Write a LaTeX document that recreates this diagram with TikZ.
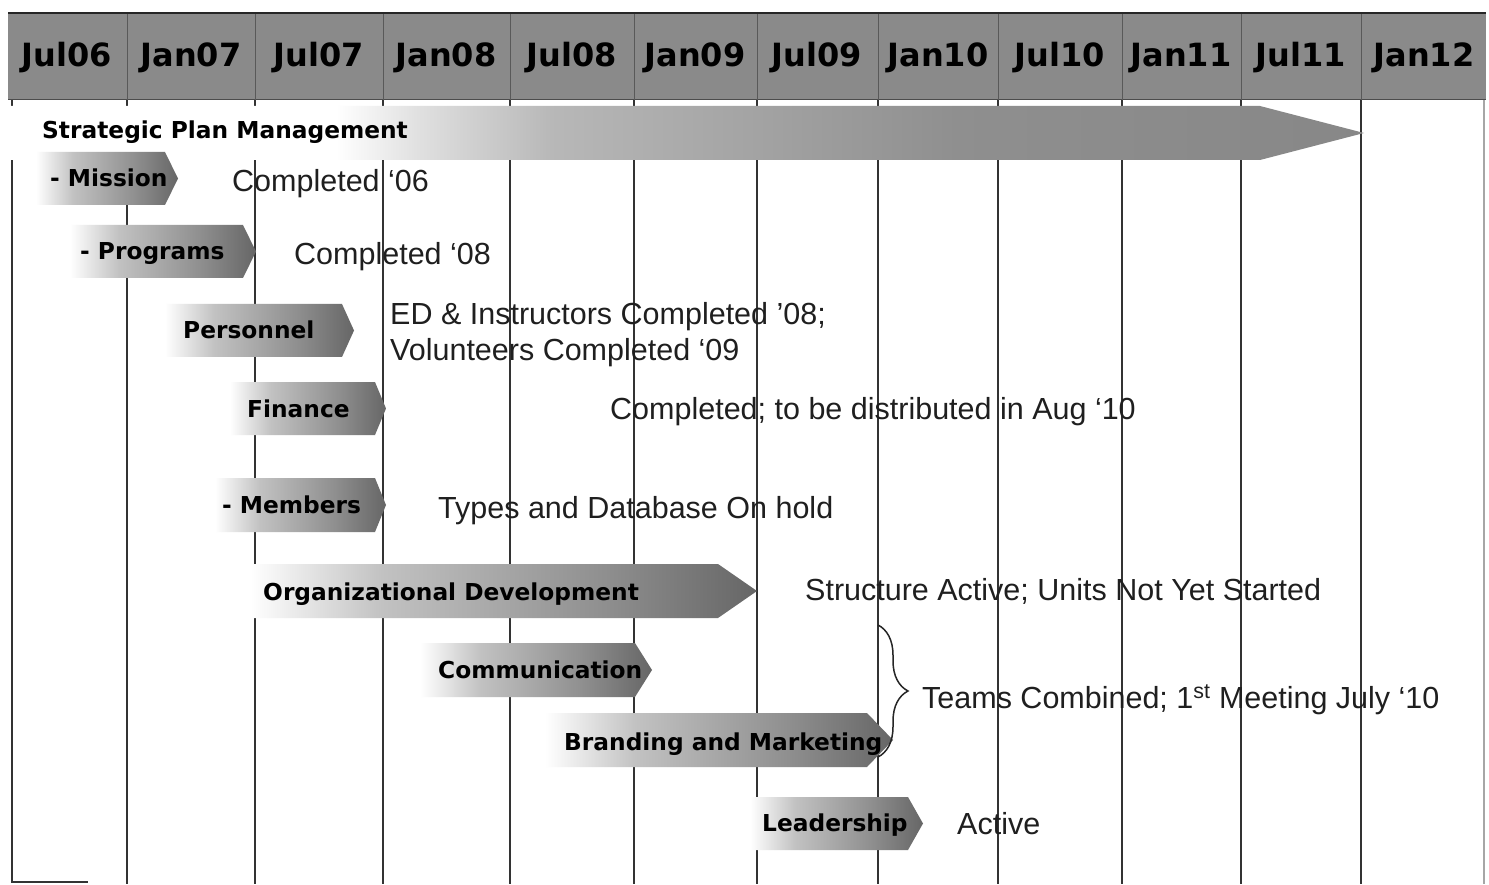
\documentclass[tikz,border=0pt]{standalone}
\usepackage{fontspec}
\setmainfont{Liberation Sans}
\newfontfamily\verdb{DejaVu Sans}[BoldFont={DejaVu Sans Bold}]
\usetikzlibrary{decorations.pathreplacing}
\pgfdeclarehorizontalshading{chev}{100bp}{color(0bp)=(white); color(25bp)=(white); color(38bp)=(black!24); color(60bp)=(black!44); color(75bp)=(black!60); color(100bp)=(black!60)}
\pgfdeclarehorizontalshading{bigshade}{100bp}{color(0bp)=(white); color(37bp)=(white); color(40bp)=(black!12); color(45bp)=(black!28); color(60bp)=(black!44); color(75bp)=(black!47); color(100bp)=(black!47)}
\newcommand\mychev[5]{\shade[shading=chev] (#1,#4) -- (#2,#4) -- (#3,{(#4+#5)/2}) -- (#2,#5) -- (#1,#5) -- cycle;}
\tikzset{
  hdr/.style={font=\verdb\bfseries\fontsize{32}{36}\selectfont, anchor=base, inner sep=0pt, text=black},
  lbl/.style={font=\verdb\bfseries\fontsize{23.3}{27}\selectfont, anchor=base west, inner sep=0pt, text=black},
  stat/.style={font=\fontsize{30.5}{34}\selectfont, anchor=base west, inner sep=0pt, text=black!88},
  gridline/.style={draw=black!80, line width=1.6pt},
  hdrline/.style={draw=black!65, line width=1pt}
}
\begin{document}
\begin{tikzpicture}[x=1pt,y=-1pt]
\useasboundingbox (0,0) rectangle (1489,885);
\fill[white] (0,0) rectangle (1489,885);
% header
\fill[black!46] (8,13) rectangle (1486,100);
\draw[black!85, line width=2.5pt] (8,13) -- (1486,13);
\draw[black!70, line width=1pt] (8,100) -- (1486,100);
\foreach \x in {127,255,383,510,634,757,878,998,1122,1241,1361}
  \draw[hdrline] (\x,14) -- (\x,100);
\node[hdr] (h1) at (67,67) {Jul06};
\node[hdr] (h2) at (191,67) {Jan07};
\node[hdr] (h3) at (319,67) {Jul07};
\node[hdr] (h4) at (446,67) {Jan08};
\node[hdr] (h5) at (572,67) {Jul08};
\node[hdr] (h6) at (695,67) {Jan09};
\node[hdr] (h7) at (817,67) {Jul09};
\node[hdr] (h8) at (938,67) {Jan10};
\node[hdr] (h9) at (1060,67) {Jul10};
\node[hdr] (h10) at (1181,67) {Jan11};
\node[hdr] (h11) at (1301,67) {Jul11};
\node[hdr] (h12) at (1424,67) {Jan12};
% grid
\foreach \x in {127,255,383,510,634,757,878,998,1122,1241,1361}
  \draw[gridline] (\x,100) -- (\x,884);
\draw[gridline] (12,100) -- (12,882) -- (88,882);
\draw[black!35, line width=1.4pt] (1484,100) -- (1484,884);
% big arrow
\shade[shading=bigshade] (11,106) -- (1260,106) -- (1364,133) -- (1260,160) -- (11,160) -- cycle;
\node[lbl] (spm) at (42,139) {Strategic Plan Management};
% chevrons
\mychev{36}{165}{178}{152}{205}
\node[lbl] (mis) at (50,187) {- Mission};
\mychev{70}{243}{256}{225}{278}
\node[lbl] (prog) at (80,260) {- Programs};
\mychev{165}{342}{354}{304}{357}
\node[lbl] (pers) at (183,338) {Personnel};
\mychev{230}{375}{386}{382}{435}
\node[lbl] (fin) at (247,417) {Finance};
\mychev{215}{375}{386}{478}{532}
\node[lbl] (mem) at (222,513) {- Members};
\mychev{250}{718}{757}{564}{618}
\node[lbl] (org) at (263,600) {Organizational Development};
\mychev{420}{635}{652}{643}{697}
\node[lbl] (com) at (438,678) {Communication};
\mychev{545}{867}{893}{713}{767}
\node[lbl] (brand) at (564,750) {Branding and Marketing};
\mychev{750}{908}{923}{797}{850}
\node[lbl] (lead) at (762,831) {Leadership};
% status texts
\node[stat] (s1) at (232,192) {Completed ‘06};
\node[stat] (s2) at (294,265) {Completed ‘08};
\node[stat] (s3a) at (390,325) {ED \& Instructors Completed ’08;};
\node[stat] (s3b) at (390,361) {Volunteers Completed ‘09};
\node[stat] (s4) at (610,419) {Completed; to be distributed in Aug ‘10};
\node[stat] (s5) at (438,518) {Types and Database On hold};
\node[stat] (s6) at (805,600) {Structure Active; Units Not Yet Started};
\node[stat] (s7) at (922,708) {Teams Combined; 1\textsuperscript{st} Meeting July ‘10};
\node[stat] (s8) at (957,834) {Active};
% brace
\coordinate (bt) at (878,625);
\coordinate (bb) at (878,757);
\draw[black!85, line width=1.5pt, decorate, decoration={brace, amplitude=30pt}] (bt) -- (bb);
\end{tikzpicture}
\end{document}
